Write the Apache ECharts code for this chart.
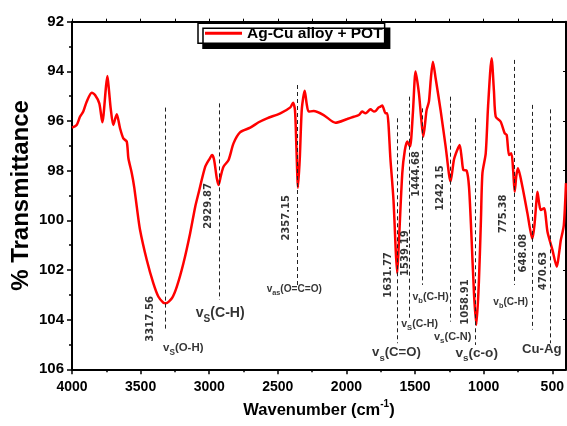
<!DOCTYPE html>
<html>
<head>
<meta charset="utf-8">
<script src="https://cdn.jsdelivr.net/npm/echarts@6/dist/echarts.min.js"></script>
<style>html,body{margin:0;padding:0;background:#fff;}#c{width:567px;height:426px;}</style>
</head>
<body>
<div id="c"></div>
<script>
// ---- data ----
const seriesName = 'Ag-Cu alloy + POT';
const wavenumber = [4000,3966,3942,3918,3893,3856,3832,3801,3779,3752,3742,3730,3718,3699,3674,3650,3626,3601,3589,3564,3547,3528,3504,3455,3407,3370,3334,3316,3272,3236,3188,3139,3102,3078,3029,2995,2980,2965,2945,2932,2915,2896,2859,2823,2774,2701,2640,2579,2482,2409,2389,2375,2365,2353,2340,2325,2304,2290,2275,2239,2166,2080,1995,1947,1910,1885,1861,1825,1800,1788,1765,1752,1739,1715,1703,1679,1657,1640,1630,1618,1593,1575,1557,1537,1516,1496,1472,1455,1440,1416,1399,1385,1370,1350,1314,1277,1241,1217,1195,1175,1160,1148,1124,1107,1090,1070,1053,1035,1020,1009,985,968,942,925,912,876,847,832,815,798,785,774,762,750,718,681,645,630,615,608,596,584,560,535,499,467,450,438,426,416,408,400];
const transmittance = [96.27,96.16,95.83,95.62,95.22,94.86,94.95,95.29,96.05,94.6,94.19,94.8,95.49,96.16,95.73,96.29,96.70,96.83,97.50,98.11,98.65,99.45,100.39,101.6,102.54,103.08,103.32,103.34,103.14,102.67,101.73,100.52,99.45,98.91,97.84,97.5,97.37,97.55,98.3,98.58,98.2,97.84,97.57,96.90,96.45,96.27,96.05,95.89,95.69,95.45,95.26,95.56,97.0,98.69,97.5,95.5,94.78,95.3,95.62,95.60,95.76,96.07,95.92,95.83,95.76,95.62,95.69,95.53,95.62,95.60,95.45,95.42,95.38,95.69,95.69,97.57,99.2,101.3,102.13,100.9,98.10,97.2,96.83,97.03,95.69,94.01,94.88,95.9,96.63,95.56,95.22,94.3,93.61,94.28,95.56,97.03,98.44,97.57,97.2,96.97,97.5,97.97,98.0,98.64,100.5,103.0,104.21,102.5,100.0,98.1,97.3,95.42,93.47,94.8,95.83,96.03,96.49,96.56,97.37,97.30,98.0,98.85,98.2,97.90,98.64,99.72,100.75,100.2,99.2,98.85,99.3,99.58,99.51,100.46,101.19,101.87,101.3,100.8,100.5,100.2,99.5,98.5];

const xTickValues = [4000,3500,3000,2500,2000,1500,1000,500];
const xMinorTickValues = [3750,3250,2750,2250,1750,1250,750];
const yTickValues = [92,94,96,98,100,102,104,106];

// peak annotations (dashed lines)
const peakLabels = ['3317.56','2929.87','2357.15','1631.77','1539.19','1444.68','1242.15','1058.91','775.38','648.08','470.63'];
const peakLineX = [3317.56,2929.87,2357.15,1631.77,1539.19,1444.68,1242.15,1058.91,775.38,648.08,518];
const peakLineTop = [95.46,95.29,94.55,95.89,95.02,95.49,95.02,95.89,93.54,95.35,95.53];
const peakLineBottom = [104.48,103.2,102.7,104.95,103.95,102.6,104.08,105.02,102.6,104.4,104.95];
const peakLabelX = [3431,3007,2438,1693,1569,1489,1314,1131,854,708,562];
const peakLabelY = [103.97,99.42,99.9,102.2,101.32,98.13,98.70,103.29,99.74,101.32,102.04];

// vibration mode labels: [symbol, subscript, rest]
const modeParts = [['v','S','(O-H)'],['v','S','(C-H)'],['v','as','(O=C=O)'],['v','s','(C=O)'],['v','S','(C-H)'],['v','b','(C-H)'],['v','s','(C-N)'],['v','s','(c-o)'],['v','b','(C-H)'],['','','Cu-Ag']];
const modeX = [3189,2920,2380,1635,1467,1387,1226,1051,803,577];
const modeY = [105.19,103.82,102.81,105.42,104.22,103.13,104.74,105.42,103.33,105.22];

// ---- fonts ----
function hasFont(name){
  const c=document.createElement('canvas').getContext('2d');
  c.font='bold 20px monospace'; const a=c.measureText('Wavenumber abc 0123').width;
  c.font="bold 20px '"+name+"', monospace"; const b=c.measureText('Wavenumber abc 0123').width;
  return a!==b;
}
const hasNarrow = hasFont('Liberation Sans Narrow');
const NARROW = hasNarrow ? "'Liberation Sans Narrow'" : "'Liberation Sans', Arial";
const nk = hasNarrow ? 1 : 0.88;
const SANS = "'Liberation Sans', Arial";

// ---- build ----
const lineData = wavenumber.map((w,i)=>[w, transmittance[i]]);
const markLines = peakLineX.map((x,i)=>[{coord:[x, peakLineTop[i]]},{coord:[x, peakLineBottom[i]]}]);

const modeFontSize = [13,16,11.5,15,12,12,12.5,15.5,11.5,15];
function richFor(s){
  const base = {fontFamily:NARROW, fontWeight:'bold', color:'#000', fontSize:s*nk, lineHeight:s*nk, verticalAlign:'top'};
  return {
    v: base,
    t: base,
    s: {fontFamily:NARROW, fontWeight:'bold', color:'#000', fontSize:s*0.72*nk, padding:[s*0.55*nk,0,0,0], verticalAlign:'bottom'}
  };
}
const modeData = modeParts.map((p,i)=>{
  const fmt = (p[0]?'{v|'+p[0]+'}':'') + (p[1]?'{s|'+p[1]+'}':'') + '{t|'+p[2]+'}';
  return {value:[modeX[i], modeY[i]], label:{formatter: fmt, rich: richFor(modeFontSize[i])}};
});
const peakTextData = peakLabels.map((t,i)=>({value:[peakLabelX[i], peakLabelY[i]], name:t}));

const chart = echarts.init(document.getElementById('c'), null, {renderer:'canvas'});
const axisFontX = {fontFamily:NARROW, fontWeight:'bold', fontSize:hasNarrow?16:14, color:'#000'};
chart.setOption({
  animation:false,
  backgroundColor:'#fff',
  grid:{left:72, right:1, top:21.7, bottom:56.7, containLabel:false, outerBoundsMode:'none'},
  legend:{
    data:[seriesName], left:198, top:23.3,
    backgroundColor:'#fff', borderColor:'#000', borderWidth:1.5,
    shadowColor:'#000', shadowBlur:0.01, shadowOffsetX:5, shadowOffsetY:5,
    padding:[2,2,2,7], icon:'rect', itemWidth:37, itemHeight:3,
    textStyle:{fontFamily:NARROW, fontWeight:'bold', fontSize:hasNarrow?18.5:15.5, color:'#000'},
    selectedMode:false
  },
  xAxis:[{
    type:'value', min:400, max:4000, inverse:true, position:'bottom',
    name:'{a|Wavenumber (cm}{b|-1}{a|)}', nameLocation:'middle', nameGap:30, nameMoveOverlap:false,
    nameTextStyle:{rich:{a:{fontFamily:NARROW, fontWeight:'bold', fontSize:hasNarrow?19:16.5, color:'#000', lineHeight:20, verticalAlign:'bottom'}, b:{fontFamily:NARROW, fontWeight:'bold', fontSize:10, color:'#000', lineHeight:20, verticalAlign:'top'}}},
    axisLine:{show:true, onZero:false, lineStyle:{color:'#000', width:2}},
    axisTick:{show:true, inside:false, length:5, lineStyle:{color:'#000', width:1.5}, customValues:xTickValues},
    axisLabel:Object.assign({margin:11, customValues:xTickValues, formatter:v=>String(v)}, axisFontX),
    splitLine:{show:false}
  },{
    type:'value', min:400, max:4000, inverse:true, position:'bottom',
    axisLine:{show:false}, axisLabel:{show:false}, splitLine:{show:false},
    axisTick:{show:true, length:3, lineStyle:{color:'#000', width:1.5}, customValues:xMinorTickValues}
  },{
    type:'value', min:400, max:4000, inverse:true, position:'top',
    axisLine:{show:true, onZero:false, lineStyle:{color:'#000', width:2}}, axisLabel:{show:false}, splitLine:{show:false},
    axisTick:{show:true, length:3, lineStyle:{color:'#000', width:1}, customValues:xMinorTickValues.concat(xTickValues)}
  }],
  yAxis:[{
    type:'value', min:92, max:106, interval:2, inverse:true, position:'left',
    name:'% Transmittance', nameLocation:'middle', nameGap:39, nameRotate:90, nameMoveOverlap:false,
    nameTextStyle:{fontFamily:SANS, fontWeight:'bold', fontSize:24, color:'#000'},
    axisLine:{show:true, onZero:false, lineStyle:{color:'#000', width:2}},
    axisTick:{show:true, length:5, lineStyle:{color:'#000', width:1.5}},
    minorTick:{show:true, splitNumber:2, length:3, lineStyle:{color:'#000', width:1.5}},
    axisLabel:{margin:8, fontFamily:SANS, fontWeight:'bold', fontSize:15, color:'#000', customValues:yTickValues},
    splitLine:{show:false}
  },{
    type:'value', min:92, max:106, interval:2, inverse:true, position:'right',
    axisLine:{show:true, onZero:false, lineStyle:{color:'#000', width:2}},
    axisTick:{show:true, inside:true, length:3, lineStyle:{color:'#000', width:1}},
    axisLabel:{show:false}, splitLine:{show:false}
  }],
  series:[{
    name:seriesName, type:'line', data:lineData, showSymbol:false, smooth:0.25,
    lineStyle:{color:'#ff0000', width:2.5}, itemStyle:{color:'#ff0000'},
    silent:true, z:3,
    markLine:{silent:true, symbol:['none','none'], label:{show:false},
      lineStyle:{color:'#222', width:1, type:[4,3]}, emphasis:{disabled:true}, data:markLines}
  },{
    name:'peaks', type:'scatter', data:peakTextData, symbolSize:0, silent:true, z:5,
    label:{show:true, position:'inside', rotate:90, formatter:p=>p.name,
      fontFamily:"'DejaVu Sans'", fontWeight:'bold', fontSize:10, color:'#000'}
  },{
    name:'modes', type:'scatter', data:modeData, symbolSize:0, silent:true, z:5,
    label:{show:true, position:'inside'}
  }]
});
</script>
</body>
</html>
